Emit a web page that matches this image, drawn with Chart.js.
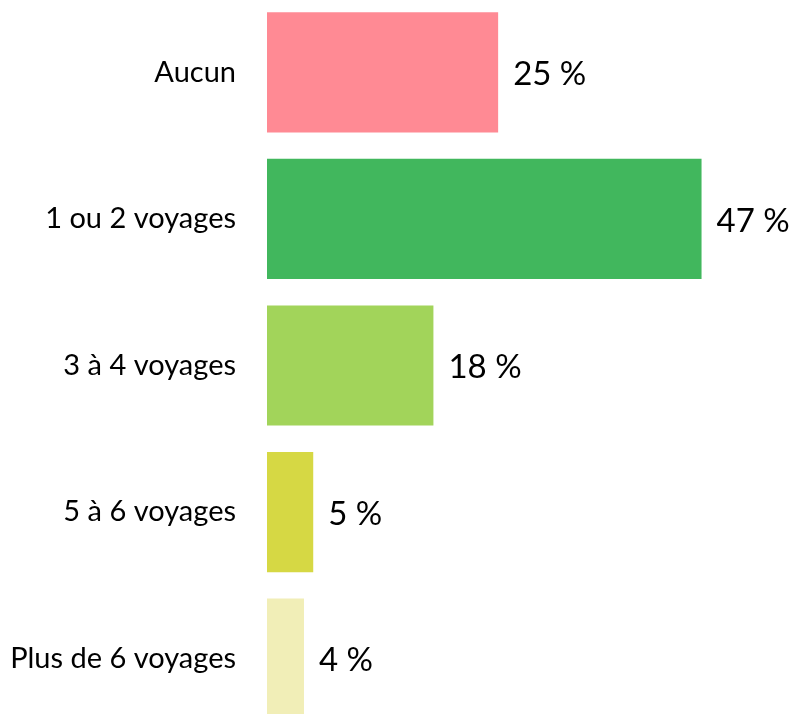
<!DOCTYPE html>
<html>
<head>
<meta charset="utf-8">
<script src="https://cdn.jsdelivr.net/npm/chart.js@4"></script>
<style>
  html, body { margin: 0; padding: 0; background: #fff; overflow: hidden; }
  #chart { display: block; margin-top: -1px; }
</style>
</head>
<body>
<canvas id="chart" width="794" height="733"></canvas>
<script>
// categories and values
const categories = ['Aucun', '1 ou 2 voyages', '3 à 4 voyages', '5 à 6 voyages', 'Plus de 6 voyages'];
const values = [25, 47, 18, 5, 4];
const barColors = ['#FF8A94', '#41B75D', '#A2D45A', '#D6D844', '#F1EEB7'];

const FONT = "Lato, 'Open Sans', sans-serif";

// draws "NN %" right of each bar
const valueLabels = {
    id: 'valueLabels',
    afterDatasetsDraw(chart) {
        const ctx = chart.ctx;
        const meta = chart.getDatasetMeta(0);
        ctx.save();
        ctx.font = '33px ' + FONT;
        ctx.fillStyle = '#000';
        ctx.textAlign = 'left';
        ctx.textBaseline = 'middle';
        meta.data.forEach((bar, i) => {
            ctx.fillText(values[i] + ' %', bar.x + 15, bar.y + 2);
        });
        ctx.restore();
    }
};

new Chart(document.getElementById('chart'), {
    type: 'bar',
    data: {
        labels: categories,
        datasets: [{
            data: values,
            backgroundColor: barColors,
            borderWidth: 0,
            categoryPercentage: 1,
            barPercentage: 0.82
        }]
    },
    options: {
        indexAxis: 'y',
        responsive: false,
        animation: false,
        layout: { padding: 0 },
        plugins: { legend: { display: false }, tooltip: { enabled: false } },
        scales: {
            x: { display: false, min: 0, max: 57 },
            y: {
                grid: { display: false, drawTicks: false },
                border: { display: false },
                ticks: { color: '#000', padding: 31, font: { family: FONT, size: 29 } },
                afterFit(scale) {
                    scale.width = 267;
                    // no extra room above/below for the tick labels
                    scale.paddingTop = 0;
                    scale.paddingBottom = 0;
                }
            }
        }
    },
    plugins: [valueLabels]
});
</script>
</body>
</html>
